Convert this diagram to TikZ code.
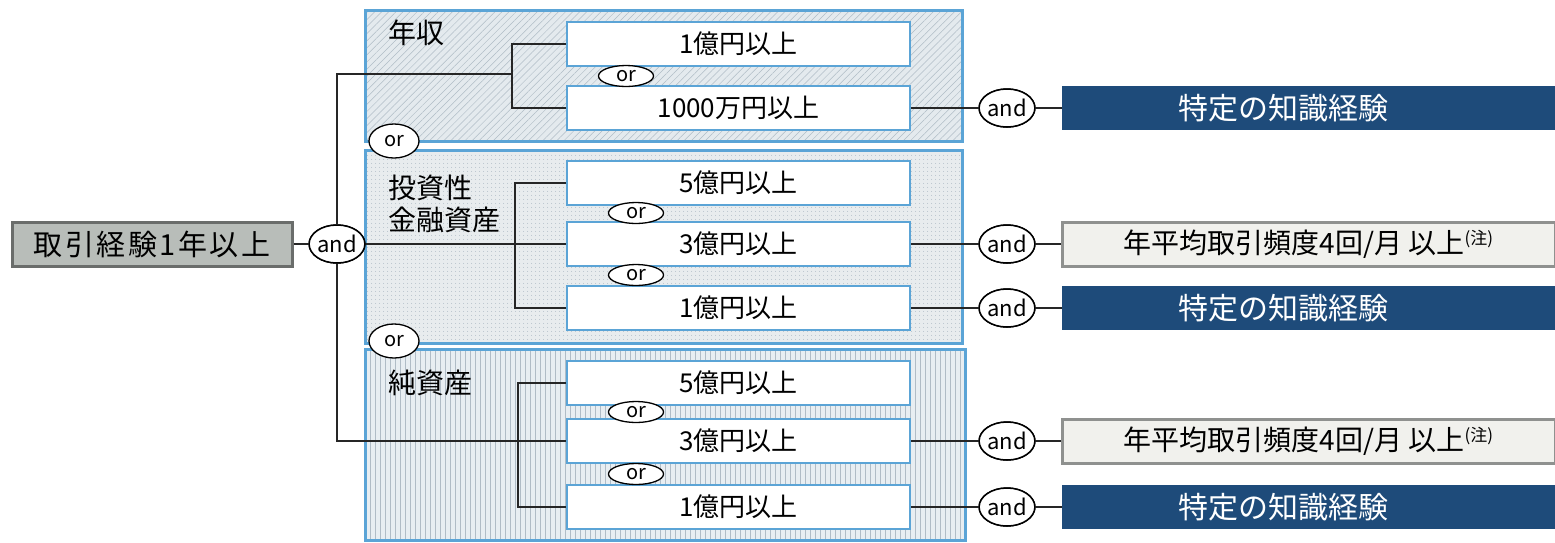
\documentclass[tikz,border=0pt]{standalone}
\usepackage{fontspec}
\setmainfont{Noto Sans CJK JP}
\usetikzlibrary{shapes.geometric,patterns.meta}
\definecolor{boxblue}{HTML}{5BA4D6}
\definecolor{grpfillA}{HTML}{E4EAEE}
\definecolor{grpfillB}{HTML}{E8ECEE}
\definecolor{grpfillC}{HTML}{E8EEF2}
\definecolor{hatchc}{HTML}{B0BCC6}
\definecolor{navy}{HTML}{1E4B7A}
\definecolor{startfill}{HTML}{B8BDB9}
\definecolor{startdraw}{HTML}{6A6D6B}
\definecolor{freqfill}{HTML}{F1F1ED}
\definecolor{freqdraw}{HTML}{8F918F}
\newcommand\valfont{\fontsize{26pt}{30pt}\selectfont}
\newcommand\bigjfont{\fontsize{28pt}{32pt}\selectfont}
\newcommand\startfont{\fontsize{29pt}{32pt}\selectfont}
\newcommand\navyfont{\fontsize{30pt}{34pt}\selectfont}
\newcommand\andfont{\fontsize{22pt}{24pt}\selectfont}
\newcommand\orfont{\fontsize{20pt}{22pt}\selectfont}
\newcommand\notemark{\raisebox{9pt}{\fontsize{17pt}{18pt}\selectfont (注)}}
\newcommand\sk{\kern2.5pt}
\tikzset{
  x=1pt, y=-1pt,
  conn/.style={draw=black!85, line width=2pt},
  grpbox/.style={draw=boxblue, line width=3pt, minimum width=597pt, inner sep=0pt},
  valbox/.style={draw=boxblue, line width=2pt, fill=white, minimum width=343pt,
    minimum height=44pt, inner sep=0pt, font=\valfont},
  andnode/.style={ellipse, draw=black, line width=1.5pt, fill=white, minimum width=50pt,
    minimum height=38pt, inner sep=0pt, font=\andfont},
  orsmall/.style={ellipse, draw=black, line width=1.3pt, fill=white, minimum width=55pt,
    minimum height=21pt, inner sep=0pt, font=\orfont},
  orbig/.style={ellipse, draw=black, line width=1.3pt, fill=white, minimum width=50pt,
    minimum height=34pt, inner sep=0pt, font=\orfont},
  navybox/.style={fill=navy, text=white, minimum width=493pt, minimum height=44pt,
    inner sep=0pt, font=\navyfont},
  freqbox/.style={fill=freqfill, draw=freqdraw, line width=3pt, minimum width=493pt,
    minimum height=44pt, inner sep=0pt, font=\bigjfont},
  startbox/.style={fill=startfill, draw=startdraw, line width=3pt, minimum width=280pt,
    minimum height=44pt, inner sep=0pt, font=\startfont},
  grplabel/.style={anchor=west, inner sep=0pt, font=\bigjfont, align=left},
}
\begin{document}
\begin{tikzpicture}
\useasboundingbox[fill=white] (0,0) rectangle (1555,542);

% groups
\node[grpbox, minimum height=131pt, preaction={fill=grpfillA},
  pattern={Lines[angle=45,distance=5pt,line width=0.5pt]}, pattern color=hatchc]
  (g1) at (663.5,75.5) {};
\node[grpbox, minimum height=193pt, preaction={fill=grpfillB},
  pattern={Dots[distance=4pt,radius=0.6pt]}, pattern color=hatchc]
  (g2) at (663.5,246.5) {};
\node[grpbox, minimum width=600pt, minimum height=191pt, preaction={fill=grpfillC},
  pattern={Lines[angle=90,distance=5pt,line width=0.5pt]}, pattern color=hatchc]
  (g3) at (665,444.5) {};

\node[grplabel] (l1) at (388,33) {年収};
\node[grplabel] (l2) at (388,204) {投資性\\金融資産};
\node[grplabel] (l3) at (388,383) {純資産};

% start
\node[startbox] (s) at (152,244) {取\sk 引\sk 経\sk 験\sk 1\sk 年\sk 以\sk 上};
\node[andnode] (A) at (337,244) {and};

% value boxes
\node[valbox] (a1) at (738.5,44) {1億円以上};
\node[valbox] (a2) at (738.5,108) {1000万円以上};
\node[valbox] (b1) at (738.5,183) {5億円以上};
\node[valbox] (b2) at (738.5,244) {3億円以上};
\node[valbox] (b3) at (738.5,308) {1億円以上};
\node[valbox] (c1) at (738.5,383) {5億円以上};
\node[valbox] (c2) at (738.5,441) {3億円以上};
\node[valbox] (c3) at (738.5,507) {1億円以上};

% right side
\node[andnode] (R1) at (1007,108) {and};
\node[andnode] (R2) at (1007,244) {and};
\node[andnode] (R3) at (1007,308) {and};
\node[andnode] (R4) at (1007,441) {and};
\node[andnode] (R5) at (1007,507) {and};
\node[navybox] (K1) at (1308.5,108) {特定の知識経験\hspace*{50pt}};
\node[freqbox] (F2) at (1308.5,244) {年平均取引頻度4回/月 以上\notemark};
\node[navybox] (K3) at (1308.5,308) {特定の知識経験\hspace*{50pt}};
\node[freqbox] (F4) at (1308.5,441) {年平均取引頻度4回/月 以上\notemark};
\node[navybox] (K5) at (1308.5,507) {特定の知識経験\hspace*{50pt}};

% coordinates for brackets
\coordinate (j1) at (512,74);
\coordinate (j2) at (515,244);
\coordinate (j3) at (518,441);

% connectors
\draw[conn] (s.east) -- (A.west);
\draw[conn] (A.north) |- (j1);
\draw[conn] (a1.west) -| (j1) |- (a2.west);
\draw[conn] (A.east) -- (b2.west);
\draw[conn] (b1.west) -| (j2) |- (b3.west);
\draw[conn] (A.south) |- (c2.west);
\draw[conn] (c1.west) -| (j3) |- (c3.west);

\draw[conn] (a2.east) -- (R1.west);
\draw[conn] (R1.east) -- (K1.west);
\draw[conn] (b2.east) -- (R2.west);
\draw[conn] (R2.east) -- (F2.west);
\draw[conn] (b3.east) -- (R3.west);
\draw[conn] (R3.east) -- (K3.west);
\draw[conn] (c2.east) -- (R4.west);
\draw[conn] (R4.east) -- (F4.west);
\draw[conn] (c3.east) -- (R5.west);
\draw[conn] (R5.east) -- (K5.west);

% redraw ellipses on top of lines
\node[andnode] at (A) {and};
\node[andnode] at (R1) {and};
\node[andnode] at (R2) {and};
\node[andnode] at (R3) {and};
\node[andnode] at (R4) {and};
\node[andnode] at (R5) {and};

% or ellipses
\node[orsmall] (o1) at (626,76) {or};
\node[orsmall] (o2) at (636,213) {or};
\node[orsmall] (o3) at (636,275) {or};
\node[orsmall] (o4) at (636,412) {or};
\node[orsmall] (o5) at (636,474) {or};
\node[orbig] (O1) at (394,141) {or};
\node[orbig] (O2) at (394,341) {or};
\end{tikzpicture}
\end{document}
